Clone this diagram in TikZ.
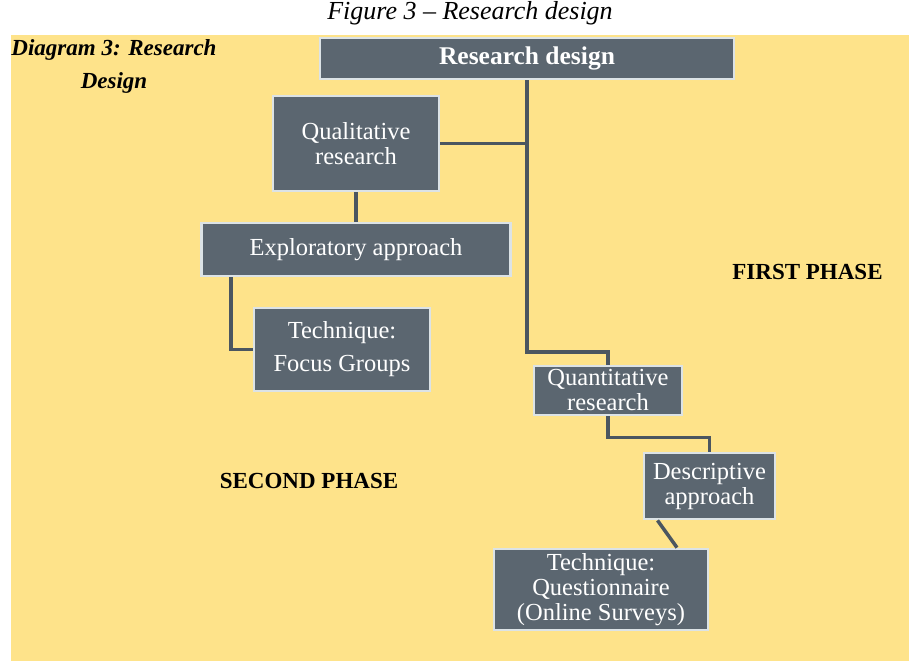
\documentclass[tikz,border=0pt]{standalone}
\usepackage{fontspec}
\setmainfont{Liberation Serif}
\usetikzlibrary{positioning}
\definecolor{paper}{HTML}{FEE38A}
\definecolor{slate}{HTML}{5B6670}
\definecolor{rim}{HTML}{DCE3E6}
\definecolor{wire}{HTML}{4B5660}
\begin{document}
\begin{tikzpicture}[
  x=1pt,y=-1pt,
  box/.style={draw=rim,fill=slate,line width=2.8pt,text=white,
    align=center,inner sep=0pt,font=\fontsize{24.5}{25}\selectfont},
  link/.style={draw=wire,line width=3.5pt},
  phase/.style={font=\fontsize{23}{26}\selectfont\bfseries,anchor=base}
]
  \useasboundingbox (0,0) rectangle (909,661);
  \fill[paper] (11,35) rectangle (909,661);
  \node[font=\fontsize{26}{28}\selectfont\itshape,anchor=base] (caption)
    at (470,20) {Figure 3 -- Research design};
  \node[font=\fontsize{23}{33}\selectfont\bfseries\itshape,align=center]
    (tag) at (114,66) {Diagram 3: Research\\Design};

  \node[box,minimum width=414,minimum height=41,
    font=\fontsize{25.5}{25}\selectfont\bfseries] (design) at (527,58.5)
    {Research design};
  \node[box,minimum width=166,minimum height=95] (qual) at (356,143.5)
    {Qualitative\\research};
  \node[box,minimum width=309,minimum height=53] (explor) at (356,249.5)
    {Exploratory approach};
  \node[box,minimum width=176,minimum height=83] (focus) at (342,349.5)
    {Technique:\\[8pt]Focus Groups};
  \node[box,minimum width=148,minimum height=49] (quant) at (608,390.5)
    {Quantitative\\research};
  \node[box,minimum width=131,minimum height=66] (descr) at (709.5,486)
    {Descriptive\\approach};
  \node[box,minimum width=214,minimum height=81] (quest) at (601,589.5)
    {Technique:\\Questionnaire\\(Online Surveys)};

  \node[phase] (first) at (807.5,279) {FIRST PHASE};
  \node[phase] (second) at (309,488) {SECOND PHASE};

  \coordinate (drop) at (528,352);
  \draw[link] (design.south) -- (design.south |- drop) -| (quant.north);
  \draw[link] (qual.east) -- (qual.east -| design.south);
  \draw[link] (qual.south) -- (explor.north);
  \draw[link] ([xshift=31pt]explor.south west) |- (focus.west);
  \draw[link] (quant.south) -- ++(0,21) -| (descr.north);
  \draw[link] ([xshift=-52pt]descr.south) -- ([xshift=76pt]quest.north);
\end{tikzpicture}
\end{document}
